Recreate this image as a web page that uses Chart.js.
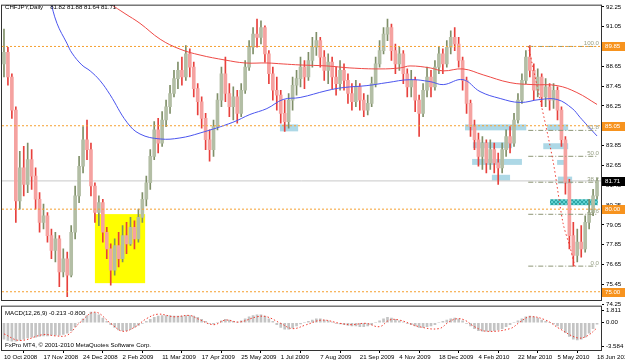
<!DOCTYPE html>
<html>
<head>
<meta charset="utf-8">
<title>CHFJPY Daily</title>
<script src="https://cdn.jsdelivr.net/npm/chart.js@4.4.1/dist/chart.umd.min.js"></script>
<style>
  html, body { margin: 0; padding: 0; background: #fff; }
  #wrap { position: relative; width: 625px; height: 361px; overflow: hidden; }
  #wrap canvas { position: absolute; left: 0; }
  #mainChart { top: 0; }
  #macdChart { top: 301px; }
</style>
</head>
<body>
<div id="wrap">
  <canvas id="mainChart" width="625" height="310"></canvas>
  <canvas id="macdChart" width="625" height="60"></canvas>
</div>
<script>
// values, one bar = about two trading days
const dateLabels = ['10 Oct 2008', '17 Nov 2008', '24 Dec 2008', '2 Feb 2009', '11 Mar 2009', '17 Apr 2009',
  '25 May 2009', '1 Jul 2009', '7 Aug 2009', '21 Sep 2009', '4 Nov 2009', '18 Dec 2009', '4 Feb 2010',
  '22 Mar 2010', '5 May 2010', '18 Jun 2010'];
const priceTicks = [92.25, 91.05, 89.85, 88.65, 87.45, 86.25, 85.05, 83.85, 82.65, 81.45, 80.25, 79.05,
  77.85, 76.65, 75.45, 74.25];
const macdTicks = [1.811, 0, -3.584];

const firstOpen = 88.8;
const closes = [
  89.5, 88.0, 86.0, 80.5, 82.5, 81.5, 83.0, 82.0, 80.6, 79.2,
  79.6, 78.4, 77.5, 78.2, 76.2, 77.0, 76.0, 78.6, 80.8, 82.6,
  84.2, 83.6, 81.4, 79.8, 80.4, 78.6, 77.6, 76.3, 77.8, 77.0,
  78.4, 77.9, 78.9, 78.2, 79.5, 80.6, 81.6, 83.2, 84.8, 84.0,
  85.4, 86.2, 87.0, 87.9, 88.4, 88.0, 89.4, 88.6, 87.3, 86.5,
  85.5, 84.2, 83.6, 85.0, 86.6, 88.2, 87.0, 86.2, 86.8, 85.8,
  87.2, 88.6, 89.8, 90.6, 90.4, 91.0, 89.4, 88.2, 87.2, 86.9,
  85.8, 85.3, 86.6, 87.5, 87.9, 88.6, 88.0, 89.0, 89.8, 90.2,
  89.2, 88.4, 88.9, 88.0, 87.6, 88.4, 87.8, 87.0, 86.5, 87.4,
  86.6, 86.0, 86.4, 87.6, 88.8, 89.6, 90.6, 91.0, 89.6, 88.8,
  89.4, 88.2, 87.4, 87.8, 86.6, 85.8, 87.2, 88.0, 87.4, 88.6,
  89.4, 88.8, 89.8, 90.4, 90.0, 89.0, 87.8, 86.4, 85.0, 84.2,
  83.2, 84.0, 82.8, 83.6, 82.8, 82.5, 83.6, 84.4, 84.0, 85.4,
  86.6, 87.8, 89.2, 88.4, 87.2, 88.0, 86.8, 87.4, 86.6, 87.2,
  86.0, 84.2, 81.6, 78.4, 77.2, 78.0, 77.6, 79.2, 79.8, 80.8,
  81.71
];
const highs = [
  90.9, 89.8, 88.2, 86.2, 83.5, 83.8, 84.0, 83.6, 82.5, 81.0,
  80.3, 79.8, 78.8, 78.6, 78.4, 77.6, 77.4, 79.0, 81.4, 83.2,
  85.0, 85.4, 84.0, 81.6, 80.8, 80.6, 78.9, 77.9, 78.2, 78.6,
  79.0, 79.2, 79.5, 79.3, 80.0, 81.0, 82.0, 83.6, 85.3, 85.5,
  85.9, 86.6, 87.5, 88.4, 88.9, 89.2, 89.9, 89.7, 88.9, 87.6,
  86.8, 85.8, 84.8, 85.4, 87.0, 88.6, 89.2, 87.6, 87.4, 87.2,
  87.6, 89.0, 90.2, 91.0, 91.5, 91.4, 91.1, 89.6, 88.6, 88.0,
  87.2, 86.6, 87.0, 88.0, 88.4, 89.2, 89.0, 89.5, 90.4, 90.7,
  90.4, 89.6, 89.4, 89.2, 88.6, 89.0, 88.8, 88.2, 87.6, 87.8,
  87.6, 87.0, 86.9, 88.0, 89.2, 90.2, 91.0, 91.5, 91.2, 90.0,
  89.8, 89.6, 88.5, 88.4, 88.0, 86.9, 87.6, 88.6, 88.4, 89.0,
  89.8, 89.7, 90.2, 90.8, 91.0, 90.4, 89.2, 88.0, 86.6, 85.4,
  84.6, 84.4, 84.2, 84.2, 84.0, 83.4, 84.0, 84.8, 85.0, 85.8,
  87.0, 88.2, 89.6, 89.9, 88.8, 88.5, 88.2, 87.9, 87.6, 87.6,
  87.4, 86.2, 84.4, 81.8, 79.2, 78.8, 79.0, 79.6, 80.6, 81.2,
  81.88
];
const lows = [
  88.0, 87.5, 85.5, 79.2, 80.0, 80.8, 81.0, 81.2, 80.0, 78.6,
  78.8, 78.0, 77.0, 76.8, 75.3, 75.9, 74.7, 75.9, 78.2, 80.4,
  82.2, 83.0, 80.8, 79.2, 79.0, 78.0, 77.0, 75.4, 76.0, 76.5,
  76.8, 77.3, 77.8, 77.6, 78.0, 79.2, 80.2, 81.2, 83.0, 83.4,
  83.8, 85.0, 85.8, 86.8, 87.3, 87.5, 87.8, 88.0, 86.8, 85.7,
  84.9, 83.6, 82.9, 83.2, 84.8, 86.2, 86.5, 85.6, 85.4, 85.2,
  85.6, 87.0, 88.4, 89.4, 89.8, 90.0, 88.9, 87.6, 86.6, 86.0,
  85.2, 84.7, 84.9, 86.0, 86.9, 87.4, 87.3, 87.8, 88.6, 89.3,
  88.6, 87.8, 87.6, 87.3, 86.9, 87.2, 87.2, 86.4, 86.0, 86.2,
  86.0, 85.6, 85.7, 86.2, 87.4, 88.6, 89.4, 90.2, 89.0, 88.2,
  88.4, 87.6, 86.8, 86.8, 85.9, 84.4, 85.6, 86.8, 86.8, 87.2,
  88.2, 88.2, 88.6, 89.4, 89.6, 88.6, 87.2, 85.8, 84.4, 83.6,
  82.6, 82.4, 82.2, 82.4, 82.2, 81.5, 82.2, 83.2, 83.4, 83.8,
  85.2, 86.4, 87.6, 88.0, 86.6, 86.8, 86.2, 86.2, 86.0, 86.1,
  85.4, 83.8, 80.9, 77.6, 76.55, 76.8, 77.1, 77.4, 78.8, 79.6,
  80.6
];

// moving averages [bar, price]
const maSlow = [[23, 93.04], [26.8, 92.44], [30.6, 91.84], [34.4, 91.25], [39.5, 90.29], [44.5, 89.69],
  [49.6, 89.33], [55.9, 89.03], [61, 88.85], [66.5, 88.85], [70.6, 88.79], [74.9, 88.73], [81.7, 88.67],
  [87.5, 88.55], [95.1, 88.49], [100.2, 88.55], [102.7, 88.67], [107.8, 88.55], [111.1, 88.37],
  [116.1, 88.49], [121.2, 88.13], [128, 87.66], [133.8, 87.54], [139.9, 87.48], [144.9, 87.06], [150, 86.34]];
const maFast = [[11.6, 92.74], [13.4, 91.25], [15.9, 90.05], [17.2, 89.45], [19.7, 88.73], [21.8, 88.37],
  [24.3, 87.78], [26.8, 86.94], [31.1, 85.26], [34.4, 84.55], [39.5, 84.25], [44.5, 84.31], [49.6, 84.61],
  [57.9, 85.26], [62.2, 85.73], [66.5, 86.09], [70.6, 86.64], [74.9, 86.76], [81.7, 87.18], [85.8, 87.36],
  [91.8, 87.48], [96.9, 87.66], [102.7, 87.84], [107.8, 87.72], [111.1, 87.54], [116.1, 87.84],
  [120.4, 87.12], [125.5, 86.7], [130.5, 86.46], [135.6, 86.64], [139.9, 86.64], [143.7, 86.1],
  [145.7, 85.56], [147.5, 85.08], [150, 84.43]];

const macdMain = [
  -2.5, -2.7, -2.8, -2.8, -2.7, -2.5, -2.3, -2.2, -2.2, -2.1,
  -2.0, -2.0, -1.9, -1.9, -1.9, -1.8, -1.6, -1.2, -0.6, 0.0,
  0.6, 1.1, 1.6, 1.5, 1.2, 0.7, 0.2, -0.3, -0.7, -1.1,
  -1.2, -1.2, -1.0, -0.7, -0.4, -0.1, 0.2, 0.5, 0.8, 1.0,
  1.1, 1.1, 1.1, 1.0, 1.0, 1.0, 1.1, 1.1, 1.0, 0.8,
  0.5, 0.2, -0.1, -0.2, 0.0, 0.3, 0.5, 0.4, 0.2, 0.1,
  0.3, 0.6, 0.9, 1.1, 1.2, 1.2, 1.0, 0.6, 0.2, -0.3,
  -0.7, -1.0, -1.0, -0.8, -0.5, -0.2, 0.0, 0.2, 0.4, 0.6,
  0.6, 0.4, 0.3, 0.1, -0.1, -0.2, -0.3, -0.4, -0.5, -0.5,
  -0.6, -0.6, -0.5, -0.3, 0.0, 0.3, 0.6, 0.8, 0.7, 0.5,
  0.3, 0.1, -0.1, -0.3, -0.5, -0.7, -0.7, -0.6, -0.5, -0.3,
  0.0, 0.2, 0.4, 0.6, 0.7, 0.6, 0.3, -0.1, -0.5, -0.9,
  -1.2, -1.3, -1.3, -1.3, -1.2, -1.1, -0.9, -0.6, -0.3, 0.0,
  0.3, 0.6, 0.9, 1.0, 0.9, 0.7, 0.4, 0.2, 0.0, -0.2,
  -0.5, -0.9, -1.5, -2.1, -2.5, -2.6, -2.5, -2.2, -1.6, -0.9,
  -0.213
];
const macdSignal = [[0, -1.7], [4, -2.7], [10, -1.8], [13, -2.0], [16, -1.9], [19, -0.1], [23, 1.6],
  [27, -0.1], [30, -1.3], [33, -0.7], [36, 0.6], [39, 1.3], [43, 0.9], [47, 1.1], [49, 0.6], [53, -0.3],
  [56, 0.4], [59.5, 0.1], [64, 0.9], [66.5, 0.9], [70, -0.1], [73, -0.9], [76.5, -0.3], [80.5, 0.4],
  [85, -0.1], [88, -0.3], [91.5, -0.1], [95, -0.6], [97.5, 0.4], [100, 0.4], [105, -0.6], [110, -0.9],
  [112.5, 0.1], [114.5, 0.6], [116.5, 0.4], [119, -0.6], [122, -1.3], [128, -0.9], [130.5, 0.1],
  [133, 0.9], [137, 0.4], [140.5, -0.9], [145, -2.3], [147.5, -2.0], [150, -0.8]];

// drawn objects: levels, fibonacci, zones [fromBar, toBar, topPrice, bottomPrice]
const levels = [89.85, 85.05, 80.00, 75.00];
const lastPrice = 81.71;
const fibHigh = 89.85;
const fibLow = 76.55;
const fibFrom = 132.6;
const fibTo = 150.3;
const fibLevels = [100.0, 61.8, 50.0, 38.2, 23.6, 0.0];
const fibTrend = [[132.6, 89.87], [135.6, 86.64], [138.9, 82.87], [141.4, 79.15], [143.2, 77.66], [144.4, 76.53]];
const yellowZone = [23.0, 35.7, 79.7, 75.52];
const blueZones = [
  [69.8, 74.4, 85.13, 84.71],
  [116.6, 132.1, 85.13, 84.77],
  [137.4, 142.7, 85.13, 84.77],
  [118.6, 128.5, 84.05, 83.69],
  [136.4, 142.7, 83.99, 83.63],
  [118.4, 131.0, 83.04, 82.68],
  [139.9, 142.4, 82.98, 82.68],
  [123.4, 128.0, 82.08, 81.73],
  [140.1, 143.7, 81.97, 81.55]
];
const tealZone = [138.1, 150.2, 80.6, 80.24];

// narrow face if the system has one, else a smaller regular face
function hasFont(name) {
  const c = document.createElement('canvas').getContext('2d');
  c.font = '20px monospace';
  const w1 = c.measureText('10 Oct 2008 MetaQuotes').width;
  c.font = '20px "' + name + '", monospace';
  return c.measureText('10 Oct 2008 MetaQuotes').width !== w1;
}
const NARROW = hasFont('Liberation Sans Narrow');
const FONT = NARROW ? '"Liberation Sans Narrow", "Liberation Sans", sans-serif' : '"Liberation Sans", Arial, sans-serif';
const FSIZE = NARROW ? 7.4 : 6.1;
const X_MIN = -0.5, X_MAX = 151;

const opens = closes.map((c, i) => i === 0 ? firstOpen : closes[i - 1]);
const isUp = closes.map((c, i) => c >= opens[i]);
const pts = arr => arr.map(p => ({ x: p[0], y: p[1] }));

function hatch(ctx) {
  const c = document.createElement('canvas');
  c.width = c.height = 4;
  const g = c.getContext('2d');
  g.fillStyle = '#62d2d2';
  g.fillRect(0, 0, 4, 4);
  g.strokeStyle = '#2ca6a6';
  g.beginPath();
  g.moveTo(0, 4); g.lineTo(4, 0);
  g.moveTo(0, 0); g.lineTo(4, 4);
  g.stroke();
  return ctx.createPattern(c, 'repeat');
}

const zonesPlugin = {
  id: 'zones',
  beforeDatasetsDraw(chart) {
    const { ctx, chartArea: a, scales: { x, y } } = chart;
    const rect = (z, fill) => {
      const x0 = x.getPixelForValue(z[0]), x1 = x.getPixelForValue(z[1]);
      const y0 = y.getPixelForValue(z[2]), y1 = y.getPixelForValue(z[3]);
      ctx.fillStyle = fill;
      ctx.fillRect(x0, y0, x1 - x0, y1 - y0);
    };
    ctx.save();
    ctx.beginPath();
    ctx.rect(a.left, a.top, a.right - a.left, a.bottom - a.top);
    ctx.clip();
    rect(yellowZone, '#ffff00');
    blueZones.forEach(z => rect(z, '#add8e6'));
    rect(tealZone, hatch(ctx));
    ctx.restore();
  }
};

const mainOverlay = {
  id: 'mainOverlay',
  afterDraw(chart) {
    const { ctx, chartArea: a, scales: { y } } = chart;
    ctx.save();
    ctx.strokeStyle = '#333';
    ctx.lineWidth = 1;
    ctx.strokeRect(a.left - 0.5, a.top - 0.5, a.right - a.left + 1, a.bottom - a.top + 1);

    ctx.font = FSIZE + 'px ' + FONT;
    ctx.textBaseline = 'middle';
    ctx.fillStyle = '#000';
    const head = 'CHFJPY,Daily';
    ctx.fillText(head, 5, 7);
    ctx.fillText('81.82 81.88 81.64 81.71', 5 + ctx.measureText(head).width + 7, 7);

    // fibonacci level labels
    ctx.textAlign = 'right';
    ctx.textBaseline = 'bottom';
    ctx.fillStyle = '#98a086';
    fibLevels.forEach(l => {
      const py = y.getPixelForValue(fibLow + (fibHigh - fibLow) * l / 100);
      ctx.fillText(l.toFixed(1), 599, py);
    });

    // price boxes on the axis
    ctx.textAlign = 'left';
    ctx.textBaseline = 'middle';
    levels.forEach(v => {
      const py = Math.round(y.getPixelForValue(v));
      ctx.fillStyle = '#f7931e';
      ctx.fillRect(602, py - 4, 23, 9);
      ctx.fillStyle = '#fff';
      ctx.fillText(v.toFixed(2), 605, py + 0.5);
    });
    const lp = Math.round(y.getPixelForValue(lastPrice));
    ctx.fillStyle = '#000';
    ctx.fillRect(602, lp - 4, 23, 9);
    ctx.fillStyle = '#fff';
    ctx.fillText(lastPrice.toFixed(2), 605, lp + 0.5);
    ctx.restore();
  }
};

const lineSet = (data, color, extra) => Object.assign({
  type: 'line', data, borderColor: color, borderWidth: 1, pointRadius: 0, fill: false
}, extra || {});

const mainDatasets = [
  {
    type: 'bar', order: 6, grouped: false, barThickness: 1,
    data: closes.map((c, i) => ({ x: i, y: [lows[i], highs[i]] })),
    backgroundColor: isUp.map(u => u ? '#7f8f68' : '#e8403c')
  },
  {
    type: 'bar', order: 5, grouped: false, barThickness: 3, minBarLength: 1,
    data: closes.map((c, i) => ({ x: i, y: [opens[i], c] })),
    backgroundColor: isUp.map(u => u ? '#b3bea5' : '#f5a2a0')
  },
  lineSet(pts(maSlow), '#ee4a46', { order: 3, tension: 0.4 }),
  lineSet(pts(maFast), '#4b55ee', { order: 3, tension: 0.4 }),
  lineSet([{ x: X_MIN, y: lastPrice }, { x: X_MAX, y: lastPrice }], '#c8c8c8', { order: 7 }),
  lineSet(pts(fibTrend), '#ee3b30', { order: 2, borderDash: [1.5, 2.5], tension: 0.3 })
];
levels.forEach(v => mainDatasets.push(
  lineSet([{ x: X_MIN, y: v }, { x: X_MAX, y: v }], '#f5a030', { order: 1, borderDash: [2, 2] })));
fibLevels.forEach(l => {
  const p = fibLow + (fibHigh - fibLow) * l / 100;
  mainDatasets.push(lineSet([{ x: fibFrom, y: p }, { x: fibTo, y: p }], '#8e9676',
    { order: 2, borderDash: [5, 2, 1, 2] }));
});

new Chart(document.getElementById('mainChart'), {
  type: 'bar',
  data: { datasets: mainDatasets },
  options: {
    responsive: false,
    animation: false,
    layout: { padding: { left: 2, top: 2, right: 0, bottom: 10 } },
    plugins: { legend: { display: false }, tooltip: { enabled: false } },
    scales: {
      x: { type: 'linear', min: X_MIN, max: X_MAX, offset: false, display: false },
      y: {
        position: 'right', min: 74.50, max: 92.32,
        afterFit: s => { s.width = 24; },
        afterBuildTicks: s => { s.ticks = priceTicks.map(v => ({ value: v })); },
        ticks: {
          autoSkip: false, padding: 2, color: '#000',
          font: { family: FONT, size: FSIZE },
          callback: v => v.toFixed(2)
        },
        grid: { drawOnChartArea: false, drawTicks: true, tickLength: 3, color: '#000' },
        border: { display: true, color: '#333' }
      }
    }
  },
  plugins: [zonesPlugin, mainOverlay]
});

const macdOverlay = {
  id: 'macdOverlay',
  afterDraw(chart) {
    const { ctx, chartArea: a } = chart;
    ctx.save();
    ctx.strokeStyle = '#333';
    ctx.lineWidth = 1;
    ctx.strokeRect(a.left - 0.5, a.top - 0.5, a.right - a.left + 1, a.bottom - a.top + 1);
    ctx.font = FSIZE + 'px ' + FONT;
    ctx.fillStyle = '#000';
    ctx.textBaseline = 'middle';
    ctx.fillText('MACD(12,26,9) -0.213 -0.800', 5, 12);
    ctx.fillText('FxPro MT4, \u00a9 2001-2010 MetaQuotes Software Corp.', 5, 44);
    ctx.restore();
  }
};

new Chart(document.getElementById('macdChart'), {
  type: 'bar',
  data: {
    datasets: [
      {
        type: 'bar', order: 2, grouped: false, barThickness: 2,
        data: macdMain.map((v, i) => ({ x: i, y: v })),
        backgroundColor: '#c4c4c4'
      },
      lineSet(pts(macdSignal), '#f03c30', { order: 1, borderDash: [1.5, 2], tension: 0.4 })
    ]
  },
  options: {
    responsive: false,
    animation: false,
    layout: { padding: { left: 2, top: 3, right: 0, bottom: 0 } },
    plugins: { legend: { display: false }, tooltip: { enabled: false } },
    scales: {
      x: {
        type: 'linear', min: X_MIN, max: X_MAX, offset: false,
        afterFit: s => { s.height = 11; s.paddingLeft = 0; s.paddingRight = 0; },
        afterBuildTicks: s => { s.ticks = dateLabels.map((d, k) => ({ value: k * 10 })); },
        ticks: {
          autoSkip: false, align: 'start', maxRotation: 0, minRotation: 0, padding: 1, color: '#000',
          font: { family: FONT, size: FSIZE },
          callback: v => dateLabels[Math.round(v / 10)]
        },
        grid: { drawOnChartArea: false, drawTicks: true, tickLength: 3, color: '#000' },
        border: { display: true, color: '#333' }
      },
      y: {
        position: 'right', min: -4.15, max: 2.44,
        afterFit: s => { s.width = 24; },
        afterBuildTicks: s => { s.ticks = macdTicks.map(v => ({ value: v })); },
        ticks: {
          autoSkip: false, padding: 2, color: '#000',
          font: { family: FONT, size: FSIZE },
          callback: v => v === 0 ? '0.00' : String(v)
        },
        grid: { drawOnChartArea: false, drawTicks: true, tickLength: 3, color: '#000' },
        border: { display: true, color: '#333' }
      }
    }
  },
  plugins: [macdOverlay]
});
</script>
</body>
</html>
